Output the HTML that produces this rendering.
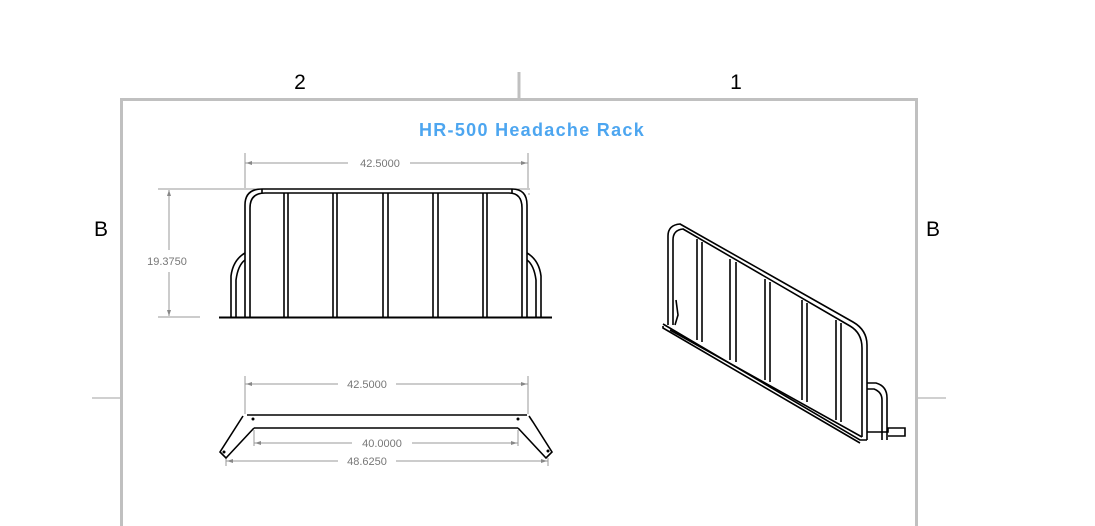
<!DOCTYPE html>
<html><head><meta charset="utf-8"><style>
html,body{margin:0;padding:0;background:#fff;}
svg{display:block;}
</style></head><body>
<svg width="1095" height="526" viewBox="0 0 1095 526" xmlns="http://www.w3.org/2000/svg" font-family="Liberation Sans, sans-serif">
<g stroke="#c0c0c0" stroke-width="3" fill="none">
<path d="M121.5 526 V99.5 H916.5 V526"/>
<line x1="519" y1="72" x2="519" y2="99"/>
</g>
<g stroke="#c0c0c0" stroke-width="1.5">
<line x1="92" y1="398" x2="121" y2="398"/>
<line x1="916" y1="398" x2="946" y2="398"/>
</g>
<g font-size="21" fill="#000" text-anchor="middle">
<text x="300" y="89">2</text>
<text x="736" y="89">1</text>
<text x="101" y="236">B</text>
<text x="933" y="236">B</text>
</g>
<text x="532" y="136" text-anchor="middle" font-size="18" font-weight="bold" fill="#4da6f0" letter-spacing="1.3">HR-500 Headache Rack</text>

<g stroke="#999" stroke-width="1" fill="none">
<line x1="245" y1="153" x2="245" y2="188"/>
<line x1="528" y1="153" x2="528" y2="188"/>
<line x1="245" y1="163" x2="348" y2="163"/>
<line x1="410" y1="163" x2="528" y2="163"/>
<line x1="158" y1="189" x2="530" y2="189"/>
<line x1="528" y1="194" x2="530" y2="194"/>
<line x1="158" y1="317" x2="200" y2="317"/>
<line x1="169" y1="190" x2="169" y2="250"/>
<line x1="169" y1="272" x2="169" y2="316"/>
</g>
<g fill="#888">
<path d="M246 163 l6 -2 v4z"/><path d="M527 163 l-6 -2 v4z"/>
<path d="M169 190 l-2 6 h4z"/><path d="M169 316 l-2 -6 h4z"/>
</g>
<g font-size="11" fill="#777" text-anchor="middle">
<text x="380" y="167">42.5000</text>
<text x="167" y="265">19.3750</text>
</g>

<g stroke="#000" stroke-width="1.6" fill="none">
<path d="M245 317 V205 Q245 189 262 189 H512 Q527 189 527 205 V317"/>
<path d="M250 317 V208 Q250 193 265 193 H509 Q522 193 522 208 V317"/>
<path d="M262 189 V193 M512 189 V193"/>
<line x1="284" y1="193" x2="284" y2="317"/><line x1="288" y1="193" x2="288" y2="317"/>
<line x1="333" y1="193" x2="333" y2="317"/><line x1="337" y1="193" x2="337" y2="317"/>
<line x1="383" y1="193" x2="383" y2="317"/><line x1="388" y1="193" x2="388" y2="317"/>
<line x1="433" y1="193" x2="433" y2="317"/><line x1="438" y1="193" x2="438" y2="317"/>
<line x1="483" y1="193" x2="483" y2="317"/><line x1="487" y1="193" x2="487" y2="317"/>
<path d="M231 317 V276 Q233 260 245 253"/><path d="M236 317 V280 Q238 265 245 260"/>
<path d="M541 317 V276 Q539 260 527 253"/><path d="M536 317 V280 Q534 265 527 260"/>
</g>
<line x1="219" y1="317.5" x2="552" y2="317.5" stroke="#000" stroke-width="2"/>

<g stroke="#999" stroke-width="1" fill="none">
<line x1="245" y1="376" x2="245" y2="414"/>
<line x1="528" y1="376" x2="528" y2="414"/>
<line x1="245" y1="384" x2="338" y2="384"/><line x1="396" y1="384" x2="528" y2="384"/>
<line x1="254" y1="430" x2="254" y2="446"/><line x1="518" y1="430" x2="518" y2="446"/>
<line x1="254" y1="443" x2="352" y2="443"/><line x1="412" y1="443" x2="518" y2="443"/>
<line x1="226" y1="458" x2="226" y2="466"/><line x1="548" y1="458" x2="548" y2="466"/>
<line x1="226" y1="461" x2="338" y2="461"/><line x1="396" y1="461" x2="548" y2="461"/>
</g>
<g fill="#888">
<path d="M246 384 l6 -2 v4z"/><path d="M527 384 l-6 -2 v4z"/>
<path d="M255 443 l6 -2 v4z"/><path d="M517 443 l-6 -2 v4z"/>
<path d="M227 461 l6 -2 v4z"/><path d="M547 461 l-6 -2 v4z"/>
</g>
<g font-size="11" fill="#777" text-anchor="middle">
<text x="367" y="388">42.5000</text>
<text x="382" y="447">40.0000</text>
<text x="367" y="465">48.6250</text>
</g>
<g stroke="#000" stroke-width="1.6" fill="none">
<line x1="247" y1="415" x2="527" y2="415"/>
<line x1="254" y1="428" x2="518" y2="428"/>
<path d="M243 416 L220 452 L226 458 L254 428"/>
<path d="M529 416 L533 422 L552 452 L546 458 L518 428"/>
</g>
<g fill="#000"><circle cx="253" cy="419" r="1.5"/><circle cx="518" cy="419" r="1.5"/><circle cx="224" cy="452" r="1.5"/><circle cx="548" cy="451" r="1.5"/></g>

<g stroke="#000" stroke-width="1.6" fill="none">
<path d="M668 325 V236 Q668 225 680 224 L853 322 Q867 330 867 345 V440"/>
<path d="M673 325 V240 Q673 230 683 229 L850 326 Q862 333 862 348 V437"/>
<path d="M663 324 L860 440 L867 440"/>
<path d="M663 326 L663 328 L860 443"/>
<path d="M670 330 L862 437"/>
<line x1="697" y1="239" x2="697" y2="340"/><line x1="702" y1="242" x2="702" y2="342"/>
<line x1="730" y1="259" x2="730" y2="360"/><line x1="736" y1="262" x2="736" y2="362"/>
<line x1="765" y1="279" x2="765" y2="380"/><line x1="770" y1="282" x2="770" y2="382"/>
<line x1="802" y1="300" x2="802" y2="400"/><line x1="807" y1="303" x2="807" y2="402"/>
<line x1="836" y1="320" x2="836" y2="420"/><line x1="841" y1="323" x2="841" y2="422"/>
<path d="M867 383 H876 Q887 386 887 398 V440"/>
<path d="M867 389 H874 Q882 392 882 400 V440"/>
<path d="M867 432 H888 V428 H905 V436 H888"/>
<path d="M676 300 L678 315 L675 325"/>
</g>
</svg>
</body></html>
